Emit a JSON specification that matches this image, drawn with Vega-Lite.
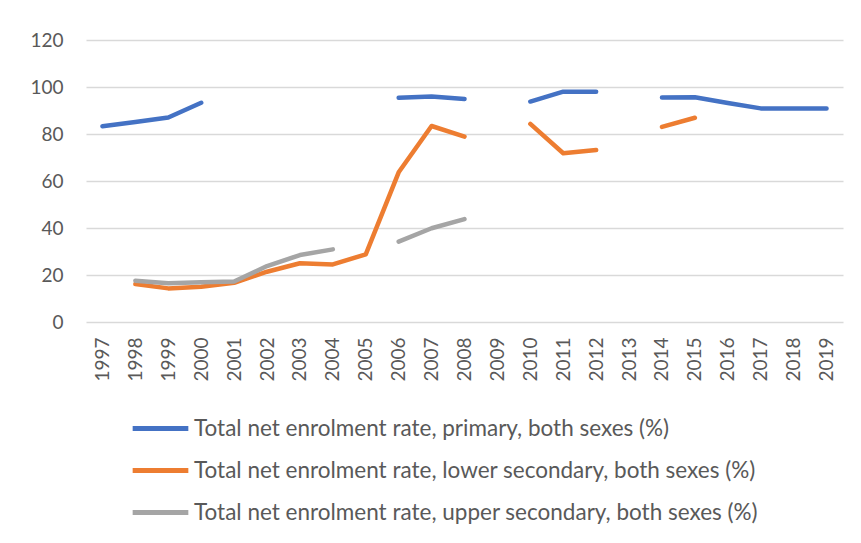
{
  "$schema": "https://vega.github.io/schema/vega-lite/v6.json",
  "autosize": "none",
  "width": 757,
  "height": 282,
  "padding": {"left": 86, "top": 40, "right": 18, "bottom": 221},
  "background": "white",
  "config": {
    "view": {"stroke": null},
    "font": "Lato",
    "axis": {"labelColor": "#595959", "labelFont": "Lato", "gridColor": "#d9d9d9", "gridWidth": 1.3}
  },
  "data": {
    "values": [
      {"year": "1997", "series": "Total net enrolment rate, primary, both sexes (%)", "value": 83.3},
      {"year": "1998", "series": "Total net enrolment rate, primary, both sexes (%)", "value": 85.1},
      {"year": "1999", "series": "Total net enrolment rate, primary, both sexes (%)", "value": 87.0},
      {"year": "2000", "series": "Total net enrolment rate, primary, both sexes (%)", "value": 93.3},
      {"year": "2001", "series": "Total net enrolment rate, primary, both sexes (%)", "value": null},
      {"year": "2002", "series": "Total net enrolment rate, primary, both sexes (%)", "value": null},
      {"year": "2003", "series": "Total net enrolment rate, primary, both sexes (%)", "value": null},
      {"year": "2004", "series": "Total net enrolment rate, primary, both sexes (%)", "value": null},
      {"year": "2005", "series": "Total net enrolment rate, primary, both sexes (%)", "value": null},
      {"year": "2006", "series": "Total net enrolment rate, primary, both sexes (%)", "value": 95.4},
      {"year": "2007", "series": "Total net enrolment rate, primary, both sexes (%)", "value": 96.0},
      {"year": "2008", "series": "Total net enrolment rate, primary, both sexes (%)", "value": 94.9},
      {"year": "2009", "series": "Total net enrolment rate, primary, both sexes (%)", "value": null},
      {"year": "2010", "series": "Total net enrolment rate, primary, both sexes (%)", "value": 93.8},
      {"year": "2011", "series": "Total net enrolment rate, primary, both sexes (%)", "value": 98.0},
      {"year": "2012", "series": "Total net enrolment rate, primary, both sexes (%)", "value": 98.0},
      {"year": "2013", "series": "Total net enrolment rate, primary, both sexes (%)", "value": null},
      {"year": "2014", "series": "Total net enrolment rate, primary, both sexes (%)", "value": 95.5},
      {"year": "2015", "series": "Total net enrolment rate, primary, both sexes (%)", "value": 95.6},
      {"year": "2016", "series": "Total net enrolment rate, primary, both sexes (%)", "value": 93.2},
      {"year": "2017", "series": "Total net enrolment rate, primary, both sexes (%)", "value": 90.9},
      {"year": "2018", "series": "Total net enrolment rate, primary, both sexes (%)", "value": 90.8},
      {"year": "2019", "series": "Total net enrolment rate, primary, both sexes (%)", "value": 90.8},
      {"year": "1997", "series": "Total net enrolment rate, lower secondary, both sexes (%)", "value": null},
      {"year": "1998", "series": "Total net enrolment rate, lower secondary, both sexes (%)", "value": 16.2},
      {"year": "1999", "series": "Total net enrolment rate, lower secondary, both sexes (%)", "value": 14.3},
      {"year": "2000", "series": "Total net enrolment rate, lower secondary, both sexes (%)", "value": 15.0},
      {"year": "2001", "series": "Total net enrolment rate, lower secondary, both sexes (%)", "value": 16.7},
      {"year": "2002", "series": "Total net enrolment rate, lower secondary, both sexes (%)", "value": 21.4},
      {"year": "2003", "series": "Total net enrolment rate, lower secondary, both sexes (%)", "value": 25.0},
      {"year": "2004", "series": "Total net enrolment rate, lower secondary, both sexes (%)", "value": 24.5},
      {"year": "2005", "series": "Total net enrolment rate, lower secondary, both sexes (%)", "value": 28.8},
      {"year": "2006", "series": "Total net enrolment rate, lower secondary, both sexes (%)", "value": 63.7},
      {"year": "2007", "series": "Total net enrolment rate, lower secondary, both sexes (%)", "value": 83.4},
      {"year": "2008", "series": "Total net enrolment rate, lower secondary, both sexes (%)", "value": 78.9},
      {"year": "2009", "series": "Total net enrolment rate, lower secondary, both sexes (%)", "value": null},
      {"year": "2010", "series": "Total net enrolment rate, lower secondary, both sexes (%)", "value": 84.3},
      {"year": "2011", "series": "Total net enrolment rate, lower secondary, both sexes (%)", "value": 71.8},
      {"year": "2012", "series": "Total net enrolment rate, lower secondary, both sexes (%)", "value": 73.2},
      {"year": "2013", "series": "Total net enrolment rate, lower secondary, both sexes (%)", "value": null},
      {"year": "2014", "series": "Total net enrolment rate, lower secondary, both sexes (%)", "value": 83.0},
      {"year": "2015", "series": "Total net enrolment rate, lower secondary, both sexes (%)", "value": 86.9},
      {"year": "2016", "series": "Total net enrolment rate, lower secondary, both sexes (%)", "value": null},
      {"year": "2017", "series": "Total net enrolment rate, lower secondary, both sexes (%)", "value": null},
      {"year": "2018", "series": "Total net enrolment rate, lower secondary, both sexes (%)", "value": null},
      {"year": "2019", "series": "Total net enrolment rate, lower secondary, both sexes (%)", "value": null},
      {"year": "1997", "series": "Total net enrolment rate, upper secondary, both sexes (%)", "value": null},
      {"year": "1998", "series": "Total net enrolment rate, upper secondary, both sexes (%)", "value": 17.6},
      {"year": "1999", "series": "Total net enrolment rate, upper secondary, both sexes (%)", "value": 16.5},
      {"year": "2000", "series": "Total net enrolment rate, upper secondary, both sexes (%)", "value": 16.9},
      {"year": "2001", "series": "Total net enrolment rate, upper secondary, both sexes (%)", "value": 17.2},
      {"year": "2002", "series": "Total net enrolment rate, upper secondary, both sexes (%)", "value": 23.8},
      {"year": "2003", "series": "Total net enrolment rate, upper secondary, both sexes (%)", "value": 28.5},
      {"year": "2004", "series": "Total net enrolment rate, upper secondary, both sexes (%)", "value": 30.9},
      {"year": "2005", "series": "Total net enrolment rate, upper secondary, both sexes (%)", "value": null},
      {"year": "2006", "series": "Total net enrolment rate, upper secondary, both sexes (%)", "value": 34.2},
      {"year": "2007", "series": "Total net enrolment rate, upper secondary, both sexes (%)", "value": 39.9},
      {"year": "2008", "series": "Total net enrolment rate, upper secondary, both sexes (%)", "value": 43.8},
      {"year": "2009", "series": "Total net enrolment rate, upper secondary, both sexes (%)", "value": null},
      {"year": "2010", "series": "Total net enrolment rate, upper secondary, both sexes (%)", "value": null},
      {"year": "2011", "series": "Total net enrolment rate, upper secondary, both sexes (%)", "value": null},
      {"year": "2012", "series": "Total net enrolment rate, upper secondary, both sexes (%)", "value": null},
      {"year": "2013", "series": "Total net enrolment rate, upper secondary, both sexes (%)", "value": null},
      {"year": "2014", "series": "Total net enrolment rate, upper secondary, both sexes (%)", "value": null},
      {"year": "2015", "series": "Total net enrolment rate, upper secondary, both sexes (%)", "value": null},
      {"year": "2016", "series": "Total net enrolment rate, upper secondary, both sexes (%)", "value": null},
      {"year": "2017", "series": "Total net enrolment rate, upper secondary, both sexes (%)", "value": null},
      {"year": "2018", "series": "Total net enrolment rate, upper secondary, both sexes (%)", "value": null},
      {"year": "2019", "series": "Total net enrolment rate, upper secondary, both sexes (%)", "value": null}
    ]
  },
  "mark": {"type": "line", "strokeWidth": 4.5, "strokeCap": "round", "strokeJoin": "round", "invalid": "break-paths-show-domains"},
  "encoding": {
    "x": {
      "field": "year", "type": "ordinal",
      "scale": {"type": "point", "padding": 0.5},
      "axis": {"title": null, "labelAngle": -90, "labelAlign": "right", "labelBaseline": "middle", "labelFontSize": 19, "labelPadding": 15, "ticks": false, "domain": false, "grid": false}
    },
    "y": {
      "field": "value", "type": "quantitative",
      "scale": {"domain": [0, 120], "nice": false},
      "axis": {"title": null, "values": [0, 20, 40, 60, 80, 100, 120], "labelFontSize": 19, "labelPadding": 23, "ticks": false, "domain": false}
    },
    "color": {
      "field": "series", "type": "nominal",
      "sort": ["Total net enrolment rate, primary, both sexes (%)", "Total net enrolment rate, lower secondary, both sexes (%)", "Total net enrolment rate, upper secondary, both sexes (%)"],
      "scale": {"range": ["#4472C4", "#ED7D31", "#A5A5A5"]},
      "legend": {
        "title": null, "orient": "none", "legendX": 44, "legendY": 358, "direction": "vertical",
        "symbolType": "stroke", "symbolStrokeWidth": 5, "symbolSize": 3100,
        "labelFontSize": 22.5, "labelColor": "#595959", "labelFont": "Lato", "labelOffset": 3,
        "rowPadding": -8, "labelLimit": 700
      }
    }
  }
}
